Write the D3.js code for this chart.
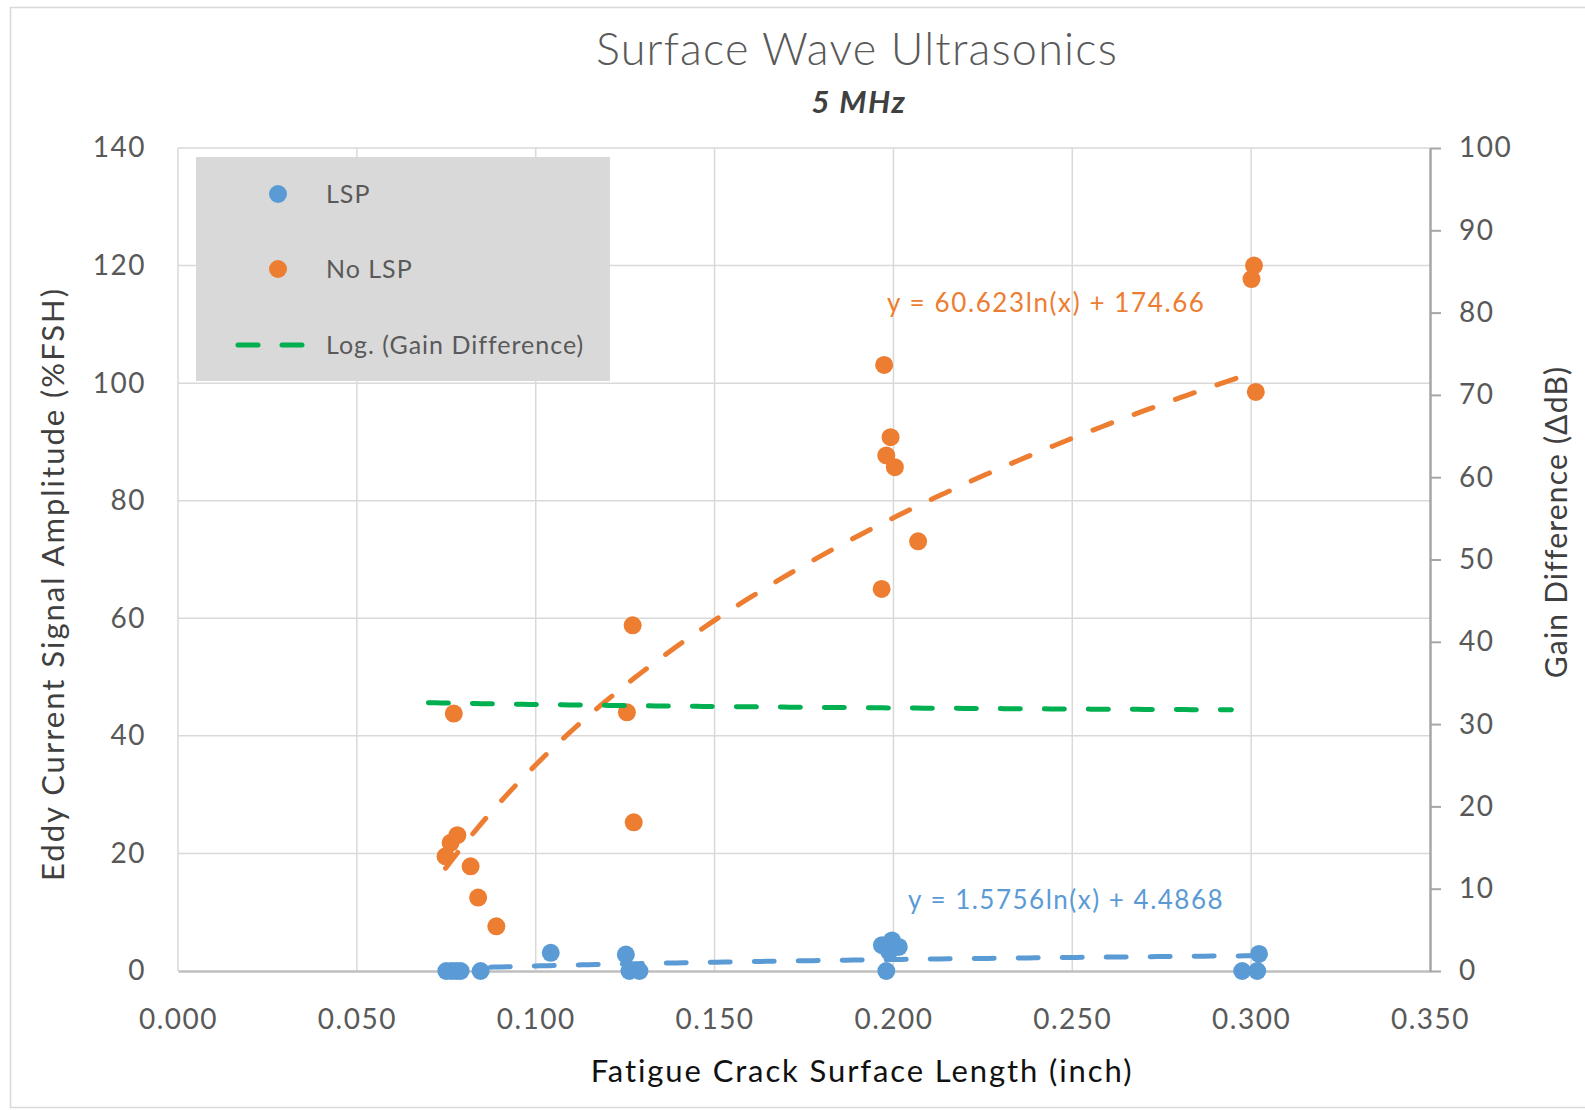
<!DOCTYPE html>
<html>
<head>
<meta charset="utf-8">
<script src="https://cdn.jsdelivr.net/npm/d3@7"></script>
<style>
  html, body { margin: 0; padding: 0; background: #fff; }
  svg { display: block; }
  text { font-family: Lato, "Open Sans", sans-serif; }
</style>
</head>
<body>
<svg id="chart" width="1585" height="1110"></svg>
<script>
// Crack length (inch) and signal amplitude (%FSH) for specimens with laser shock peening
const lspLength = [0.0750, 0.0765, 0.0778, 0.0790, 0.0846, 0.1042, 0.1252, 0.1262, 0.1290,
                   0.1968, 0.1996, 0.2015, 0.1988, 0.1980, 0.2975, 0.3017, 0.3022];
const lspAmplitude = [0, 0, 0, 0, 0, 3.1, 2.8, 0, 0,
                      4.4, 5.2, 4.1, 3.3, 0, 0, 0, 2.9];

// Same measurements without peening
const noLspLength = [0.0748, 0.0762, 0.0781, 0.0771, 0.0818, 0.0839, 0.0890,
                     0.1271, 0.1255, 0.1274,
                     0.1974, 0.1992, 0.1980, 0.2004, 0.2069, 0.1967,
                     0.3008, 0.3001, 0.3013];
const noLspAmplitude = [19.5, 21.8, 23.1, 43.8, 17.8, 12.5, 7.6,
                        58.8, 44.0, 25.3,
                        103.1, 90.8, 87.7, 85.7, 73.1, 65.0,
                        120.0, 117.7, 98.5];

// Logarithmic trendlines: y = a*ln(x) + b, drawn over [xStart, xEnd]
const lspTrend = [1.5756, 4.4868];
const lspTrendRange = [0.0750, 0.3022];
const noLspTrend = [60.623, 174.66];
const noLspTrendRange = [0.0748, 0.3013];
const gainTrend = [-0.60, 31.0];            // secondary axis (ΔdB)
const gainTrendRange = [0.0700, 0.2945];

// Axis ticks
const xTicks = [0, 0.05, 0.10, 0.15, 0.20, 0.25, 0.30, 0.35];
const yLeftTicks = [0, 20, 40, 60, 80, 100, 120, 140];
const yRightTicks = [0, 10, 20, 30, 40, 50, 60, 70, 80, 90, 100];

const legendItems = ["LSP", "No LSP", "Log. (Gain Difference)"];

const COLORS = { lsp: "#5b9bd5", noLsp: "#ed7d31", gain: "#00b050" };

const svg = d3.select("#chart");
const plot = { left: 178, right: 1430, top: 148, bottom: 971 };

const x = d3.scaleLinear().domain([0, 0.35]).range([plot.left, plot.right]);
const yL = d3.scaleLinear().domain([0, 140]).range([plot.bottom, plot.top]);
const yR = d3.scaleLinear().domain([0, 100]).range([plot.bottom, plot.top]);

// Chart frame
svg.append("rect")
  .attr("x", 10.5).attr("y", 7.5).attr("width", 1600).attr("height", 1100)
  .attr("fill", "#fff").attr("stroke", "#d9d9d9").attr("stroke-width", 1.5);

// Titles
svg.append("text")
  .attr("x", 857).attr("y", 65).attr("text-anchor", "middle")
  .attr("font-size", 45).attr("font-weight", 300).attr("fill", "#595959")
  .attr("letter-spacing", 1.2)
  .text("Surface Wave Ultrasonics");
svg.append("text")
  .attr("x", 859).attr("y", 113).attr("text-anchor", "middle")
  .attr("font-size", 31).attr("font-weight", 700).attr("font-style", "italic").attr("fill", "#404040")
  .attr("letter-spacing", 1.5)
  .text("5 MHz");

// Gridlines
const grid = svg.append("g");
grid.selectAll("line.h").data(yLeftTicks.filter(d => d > 0)).join("line")
  .attr("x1", plot.left).attr("x2", plot.right)
  .attr("y1", d => yL(d)).attr("y2", d => yL(d))
  .attr("stroke", "#d9d9d9").attr("stroke-width", 1.5);
grid.selectAll("line.v").data(xTicks.filter(d => d < 0.35)).join("line")
  .attr("x1", d => x(d)).attr("x2", d => x(d))
  .attr("y1", plot.top).attr("y2", plot.bottom)
  .attr("stroke", "#d9d9d9").attr("stroke-width", 1.5);

const tickFont = sel => sel.attr("font-size", 28).attr("fill", "#595959")
  .attr("font-family", "Lato, sans-serif").attr("letter-spacing", 1.5);

// Bottom axis
const xAxis = d3.axisBottom(x).tickValues(xTicks).tickFormat(d3.format(".3f")).tickSize(0).tickPadding(38);
const gx = svg.append("g").attr("transform", `translate(0,${plot.bottom})`).call(xAxis);
gx.select(".domain").attr("stroke", "#bfbfbf").attr("stroke-width", 2.5);
gx.selectAll("text").call(tickFont);

// Left axis (labels only)
const yAxisL = d3.axisLeft(yL).tickValues(yLeftTicks).tickSize(0).tickPadding(32);
const gyl = svg.append("g").attr("transform", `translate(${plot.left},0)`).call(yAxisL);
gyl.select(".domain").remove();
gyl.selectAll("text").call(tickFont);

// Right axis
const yAxisR = d3.axisRight(yR).tickValues(yRightTicks).tickSize(11).tickSizeOuter(0).tickPadding(18);
const gyr = svg.append("g").attr("transform", `translate(${plot.right},0)`).call(yAxisR);
gyr.select(".domain").attr("stroke", "#a6a6a6").attr("stroke-width", 2.5);
gyr.selectAll(".tick line").attr("stroke", "#a6a6a6").attr("stroke-width", 2);
gyr.selectAll("text").call(tickFont);

// Axis titles
svg.append("text")
  .attr("x", 862).attr("y", 1082).attr("text-anchor", "middle")
  .attr("font-size", 31).attr("fill", "#111").attr("letter-spacing", 1.9)
  .text("Fatigue Crack Surface Length (inch)");
svg.append("text")
  .attr("transform", "translate(64,584) rotate(-90)").attr("text-anchor", "middle")
  .attr("font-size", 31).attr("fill", "#404040").attr("letter-spacing", 2.0)
  .text("Eddy Current Signal Amplitude (%FSH)");
svg.append("text")
  .attr("transform", "translate(1567,522) rotate(-90)").attr("text-anchor", "middle")
  .attr("font-size", 30).attr("fill", "#404040").attr("letter-spacing", 1.2)
  .text("Gain Difference (ΔdB)");

// Scatter points
const pts = svg.append("g");
pts.selectAll("circle.lsp").data(d3.zip(lspLength, lspAmplitude)).join("circle")
  .attr("cx", d => x(d[0])).attr("cy", d => yL(d[1])).attr("r", 9)
  .attr("fill", COLORS.lsp);
pts.selectAll("circle.nolsp").data(d3.zip(noLspLength, noLspAmplitude)).join("circle")
  .attr("cx", d => x(d[0])).attr("cy", d => yL(d[1])).attr("r", 9)
  .attr("fill", COLORS.noLsp);

// Trendlines
function trendPoints(coef, range) {
  const n = 120;
  return d3.range(n + 1).map(i => {
    const xv = range[0] + (range[1] - range[0]) * i / n;
    return [xv, coef[0] * Math.log(xv) + coef[1]];
  });
}
function drawTrend(coef, range, yScale, color) {
  const line = d3.line().x(d => x(d[0])).y(d => yScale(d[1]));
  svg.append("path")
    .attr("d", line(trendPoints(coef, range)))
    .attr("fill", "none").attr("stroke", color).attr("stroke-width", 5)
    .attr("stroke-dasharray", "20 24").attr("stroke-linecap", "round");
}
drawTrend(noLspTrend, noLspTrendRange, yL, COLORS.noLsp);
drawTrend(lspTrend, lspTrendRange, yL, COLORS.lsp);
drawTrend(gainTrend, gainTrendRange, yR, COLORS.gain);

// Trendline equations
svg.append("text").attr("x", 887).attr("y", 312)
  .attr("font-size", 26).attr("fill", COLORS.noLsp).attr("letter-spacing", 1.6)
  .text("y = 60.623ln(x) + 174.66");
svg.append("text").attr("x", 908).attr("y", 909)
  .attr("font-size", 26).attr("fill", COLORS.lsp).attr("letter-spacing", 1.5)
  .text("y = 1.5756ln(x) + 4.4868");

// Legend
const lg = svg.append("g");
lg.append("rect").attr("x", 196).attr("y", 157).attr("width", 414).attr("height", 224)
  .attr("fill", "#d9d9d9");
const legendRows = [
  { label: legendItems[0], color: COLORS.lsp, kind: "dot", y: 194 },
  { label: legendItems[1], color: COLORS.noLsp, kind: "dot", y: 269 },
  { label: legendItems[2], color: COLORS.gain, kind: "line", y: 345 }
];
legendRows.forEach(r => {
  if (r.kind === "dot") {
    lg.append("circle").attr("cx", 278).attr("cy", r.y).attr("r", 9).attr("fill", r.color);
  } else {
    lg.append("line").attr("x1", 238).attr("x2", 304).attr("y1", r.y).attr("y2", r.y)
      .attr("stroke", r.color).attr("stroke-width", 5)
      .attr("stroke-dasharray", "20 24").attr("stroke-linecap", "round");
  }
  lg.append("text").attr("x", 326).attr("y", r.y + 9)
    .attr("font-size", 25).attr("fill", "#595959").attr("letter-spacing", 1)
    .text(r.label);
});
</script>
</body>
</html>
